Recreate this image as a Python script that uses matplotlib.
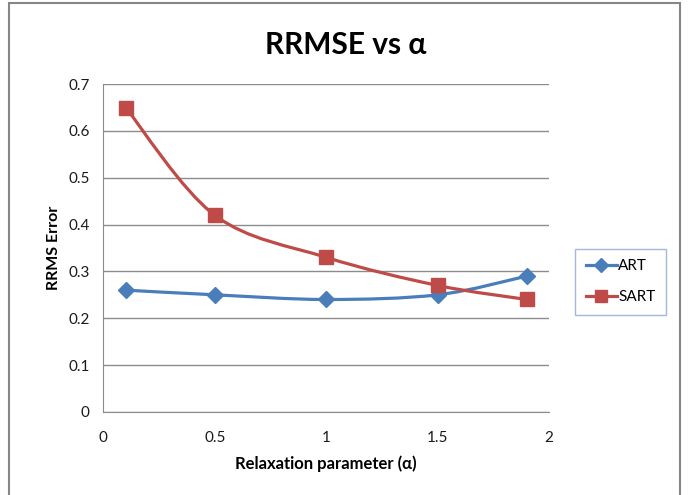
import numpy as np
import matplotlib
matplotlib.use("Agg")
import matplotlib.pyplot as plt
from matplotlib.path import Path
from matplotlib.patches import PathPatch, Rectangle

plt.rcParams['font.family'] = ['Lato', 'DejaVu Sans']

alpha = [0.1, 0.5, 1.0, 1.5, 1.9]
art = [0.26, 0.25, 0.24, 0.25, 0.29]
sart = [0.65, 0.42, 0.33, 0.27, 0.24]

blue = '#4A7EBB'
red = '#BE4B48'
grid_c = '#8C8C8C'


def smooth_path(xs, ys):
    # excel-like smoothed line: catmull-rom turned into bezier segments
    pts = np.column_stack([xs, ys])
    n = len(pts)
    verts = [pts[0]]
    codes = [Path.MOVETO]
    for i in range(n - 1):
        p0 = pts[i - 1] if i > 0 else pts[i]
        p1 = pts[i]
        p2 = pts[i + 1]
        p3 = pts[i + 2] if i + 2 < n else pts[i + 1]
        c1 = p1 + (p2 - p0) / 6.0
        c2 = p2 - (p3 - p1) / 6.0
        verts += [c1, c2, p2]
        codes += [Path.CURVE4] * 3
    return Path(verts, codes)


fig = plt.figure(figsize=(6.89, 4.95), dpi=100)
ax = fig.add_axes([0.150, 0.168, 0.647, 0.662])

for ys, col, mk, ms, lab in [(art, blue, 'D', 8, 'ART'), (sart, red, 's', 10, 'SART')]:
    ax.add_patch(PathPatch(smooth_path(alpha, ys), fill=False, ec=col, lw=2.3, zorder=3))
    ax.plot(alpha, ys, ls='none', marker=mk, ms=ms, color=col, zorder=4)
    ax.plot([], [], color=col, lw=2.3, marker=mk, ms=ms * 0.9, label=lab)

ax.set_xlim(0, 2)
ax.set_ylim(0, 0.7)
ax.set_xticks([0, 0.5, 1, 1.5, 2])
ax.set_xticklabels(['0', '0.5', '1', '1.5', '2'])
ax.set_yticks(np.arange(0, 0.71, 0.1))
ax.set_yticklabels(['0', '0.1', '0.2', '0.3', '0.4', '0.5', '0.6', '0.7'])
ax.yaxis.grid(True, color=grid_c, lw=1)
ax.set_axisbelow(True)
for s in ['top', 'right']:
    ax.spines[s].set_visible(False)
for s in ['left', 'bottom']:
    ax.spines[s].set_color(grid_c)
ax.tick_params(length=0, labelsize=11, colors='#1a1a1a', pad=10)
ax.tick_params(axis='x', pad=14)

ax.set_title('RRMSE vs \u03b1', fontsize=21.5, fontweight='bold', pad=22, x=0.544)
ax.set_xlabel('Relaxation parameter (\u03b1)', fontsize=12, fontweight='bold', labelpad=7)
ax.set_ylabel('RRMS Error', fontsize=11.5, fontweight='bold', labelpad=5)

leg = fig.legend(loc='center left', bbox_to_anchor=(0.835, 0.431), fontsize=11,
                 frameon=True, fancybox=False, handlelength=2.0, handletextpad=0.1,
                 labelspacing=1.1, borderpad=0.7, borderaxespad=0)
leg.get_frame().set_edgecolor('#8EA6CF')
leg.get_frame().set_linewidth(1)

fig.patches.append(Rectangle((9 / 689, -0.05), 671 / 689, 1.0 - 3 / 495 + 0.05,
                             transform=fig.transFigure, fill=False, ec='#868686', lw=1.5))

fig.savefig('out.png', dpi=100)
